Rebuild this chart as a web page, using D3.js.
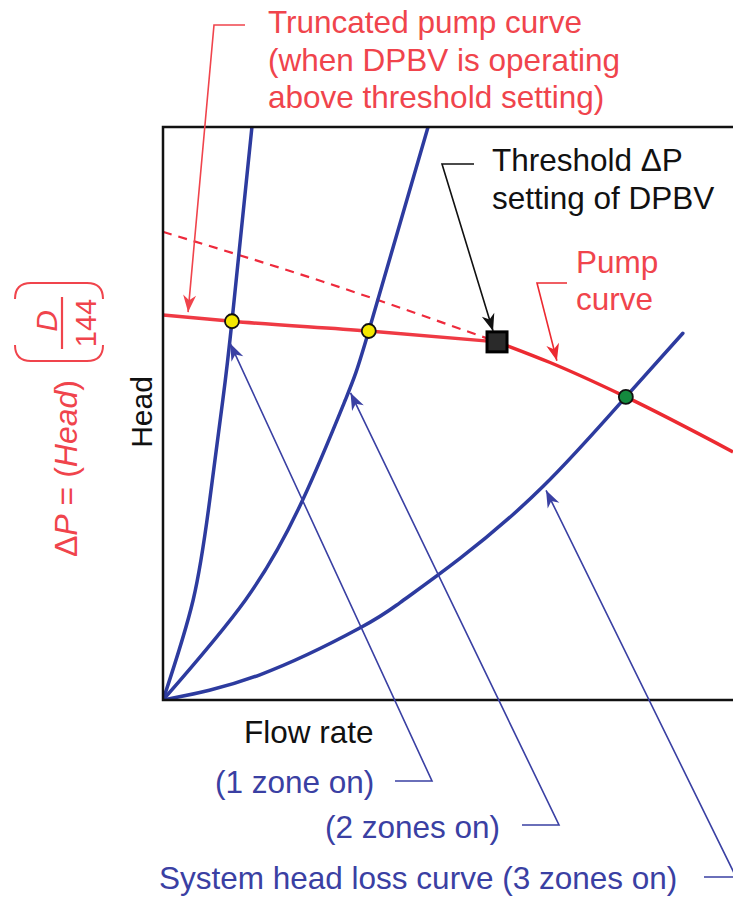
<!DOCTYPE html>
<html>
<head>
<meta charset="utf-8">
<script src="https://cdnjs.cloudflare.com/ajax/libs/d3/7.8.5/d3.min.js"></script>
<style>
  body { margin: 0; background: #fff; }
  svg { display: block; }
  text { font-family: "Liberation Sans", Arial, sans-serif; }
</style>
</head>
<body>
<script>
// values (flow, head in arbitrary units 0..10)
var zone1Curve = [[0, 0], [0.53, 1.75], [0.82, 3.49], [1.05, 5.24], [1.21, 6.61], [1.56, 10]];
var zone2Curve = [[0, 0], [1.45, 1.75], [2.45, 3.49], [3.20, 5.24], [3.61, 6.44], [4.65, 10]];
var zone3Curve = [[0, 0], [1.70, 0.44], [3.46, 1.26], [4.16, 1.70], [5.21, 2.47], [6.67, 3.73], [8.12, 5.29], [9.12, 6.40]];
var pumpCurve = [[0, 8.17], [2.81, 7.30], [5.86, 6.25], [6.79, 5.89], [8.12, 5.29], [10, 4.33]];
var truncatedCurve = [[0, 6.72], [1.21, 6.61], [3.61, 6.44], [5.86, 6.25]];
var yellowPoints = [[1.21, 6.61], [3.61, 6.44]];
var greenPoints = [[8.12, 5.29]];
var thresholdPoint = [5.86, 6.25];

var width = 733, height = 898;
var margin = {left: 163, top: 127, bottom: 198};

var x = d3.scaleLinear().domain([0, 10]).range([margin.left, width]);
var y = d3.scaleLinear().domain([0, 10]).range([height - margin.bottom, margin.top]);

var red = "#ec2a31", redText = "#f0444c", blue = "#2d3b9f", blueText = "#3a40a3";

var svg = d3.select("body").append("svg")
    .attr("width", width)
    .attr("height", height);

var defs = svg.append("defs");
defs.append("clipPath").attr("id", "plot")
  .append("rect")
    .attr("x", x(0)).attr("y", y(10))
    .attr("width", x(10) - x(0)).attr("height", y(0) - y(10));

function arrowMarker(id, color) {
    defs.append("marker")
        .attr("id", id)
        .attr("markerUnits", "userSpaceOnUse")
        .attr("viewBox", "-18 -8 20 16")
        .attr("refX", 0).attr("refY", 0)
        .attr("markerWidth", 20).attr("markerHeight", 16)
        .attr("orient", "auto")
      .append("path")
        .attr("d", "M0,0 L-17,-6.5 L-12,0 L-17,6.5 Z")
        .attr("fill", color);
}
arrowMarker("arRed", redText);
arrowMarker("arBlack", "#111");
arrowMarker("arPump", red);
arrowMarker("arBlue", blueText);

var line = d3.line()
    .x(function(d) { return x(d[0]); })
    .y(function(d) { return y(d[1]); })
    .curve(d3.curveMonotoneX);

var sysLine = d3.line()
    .x(function(d) { return x(d[0]); })
    .y(function(d) { return y(d[1]); })
    .curve(d3.curveNatural);

var plot = svg.append("g").attr("clip-path", "url(#plot)");

// dashed original pump curve up to the threshold
plot.append("path")
    .attr("d", line(pumpCurve.filter(function(d) { return d[0] <= thresholdPoint[0]; })))
    .attr("fill", "none")
    .attr("stroke", "#ee2a3c")
    .attr("stroke-width", 2.2)
    .attr("stroke-dasharray", "9,7");

// system curves
[zone1Curve, zone2Curve, zone3Curve].forEach(function(c) {
    plot.append("path")
        .attr("d", sysLine(c))
        .attr("fill", "none")
        .attr("stroke", blue)
        .attr("stroke-width", 3.5)
        .attr("stroke-linecap", "round");
});

// truncated + real pump curve
plot.append("path")
    .attr("d", line(truncatedCurve))
    .attr("fill", "none")
    .attr("stroke", "#ef3a44")
    .attr("stroke-width", 3.5);
plot.append("path")
    .attr("d", line(pumpCurve.filter(function(d) { return d[0] >= thresholdPoint[0]; })))
    .attr("fill", "none")
    .attr("stroke", red)
    .attr("stroke-width", 3.5);

// frame (left, top, bottom)
svg.append("path")
    .attr("d", "M" + width + "," + y(10) + "H" + x(0) + "V" + y(0) + "H" + width)
    .attr("fill", "none")
    .attr("stroke", "#111")
    .attr("stroke-width", 2.5);

// operating points
svg.selectAll(".yellow").data(yellowPoints).enter().append("circle")
    .attr("cx", function(d) { return x(d[0]); })
    .attr("cy", function(d) { return y(d[1]); })
    .attr("r", 7)
    .attr("fill", "#f4e800")
    .attr("stroke", "#111")
    .attr("stroke-width", 1.8);
svg.selectAll(".green").data(greenPoints).enter().append("circle")
    .attr("cx", function(d) { return x(d[0]); })
    .attr("cy", function(d) { return y(d[1]); })
    .attr("r", 7)
    .attr("fill", "#148a3e")
    .attr("stroke", "#111")
    .attr("stroke-width", 1.8);
svg.append("rect")
    .attr("x", x(thresholdPoint[0]) - 10)
    .attr("y", y(thresholdPoint[1]) - 10)
    .attr("width", 20).attr("height", 20)
    .attr("fill", "#2a2a2a")
    .attr("stroke", "#000")
    .attr("stroke-width", 3);

// leader lines: [elbow start, elbow, tip in data units]
function leader(p0, p1, tip, color, marker) {
    svg.append("path")
        .attr("d", "M" + p0 + "L" + p1 + "L" + [x(tip[0]), y(tip[1])])
        .attr("fill", "none")
        .attr("stroke", color)
        .attr("stroke-width", 1.6)
        .attr("marker-end", "url(#" + marker + ")");
}
leader([245, 25], [214, 25], [0.44, 6.77], redText, "arRed");
leader([474, 164], [442, 164], [5.79, 6.44], "#111", "arBlack");
leader([567, 283], [537, 283], [6.91, 5.92], red, "arPump");
leader([395, 781], [432, 781], [1.18, 6.22], blueText, "arBlue");
leader([522, 825], [559, 825], [3.29, 5.36], blueText, "arBlue");
leader([704, 877], [736, 877], [6.72, 3.66], blueText, "arBlue");

// text
function label(lines, x0, y0, color, size, step) {
    var t = svg.append("text")
        .attr("x", x0).attr("y", y0)
        .attr("fill", color)
        .style("font-size", size + "px");
    lines.forEach(function(s, i) {
        t.append("tspan").attr("x", x0).attr("dy", i ? step : 0).text(s);
    });
}
label(["Truncated pump curve", "(when DPBV is operating", "above threshold setting)"], 268, 33, redText, 31.5, 37.5);
label(["Threshold \u0394P", "setting of DPBV"], 492, 171, "#111", 31.5, 38);
label(["Pump", "curve"], 576, 273, redText, 31.5, 37);
label(["Flow rate"], 244, 743, "#111", 31.5, 0);
label(["(1 zone on)"], 215, 793, blueText, 31.5, 0);
label(["(2 zones on)"], 325, 838, blueText, 31.5, 0);
label(["System head loss curve (3 zones on)"], 159, 889, blueText, 31.5, 0);

svg.append("text")
    .attr("transform", "translate(152,412) rotate(-90)")
    .attr("text-anchor", "middle")
    .attr("fill", "#111")
    .style("font-size", "30px")
    .text("Head");

// red formula, rotated
var f = svg.append("g").attr("transform", "translate(77,557) rotate(-90)");
var ft = f.append("text").attr("fill", redText).style("font-size", "32px");
ft.append("tspan").text("\u0394");
ft.append("tspan").style("font-style", "italic").text("P");
ft.append("tspan").text(" = (");
ft.append("tspan").style("font-style", "italic").text("Head");
ft.append("tspan").text(")");
f.append("path")
    .attr("d", "M212,-62 Q196,-62 196,-46 L196,10 Q196,26 212,26")
    .attr("fill", "none").attr("stroke", redText).attr("stroke-width", 2);
f.append("path")
    .attr("d", "M258,-62 Q274,-62 274,-46 L274,10 Q274,26 258,26")
    .attr("fill", "none").attr("stroke", redText).attr("stroke-width", 2);
f.append("line")
    .attr("x1", 208).attr("x2", 260).attr("y1", -15).attr("y2", -15)
    .attr("stroke", redText).attr("stroke-width", 2.2);
f.append("text")
    .attr("x", 236).attr("y", -20)
    .attr("text-anchor", "middle")
    .attr("fill", redText)
    .style("font-size", "30px").style("font-style", "italic")
    .text("D");
f.append("text")
    .attr("x", 234).attr("y", 19)
    .attr("text-anchor", "middle")
    .attr("fill", redText)
    .style("font-size", "29px")
    .text("144");
</script>
</body>
</html>
